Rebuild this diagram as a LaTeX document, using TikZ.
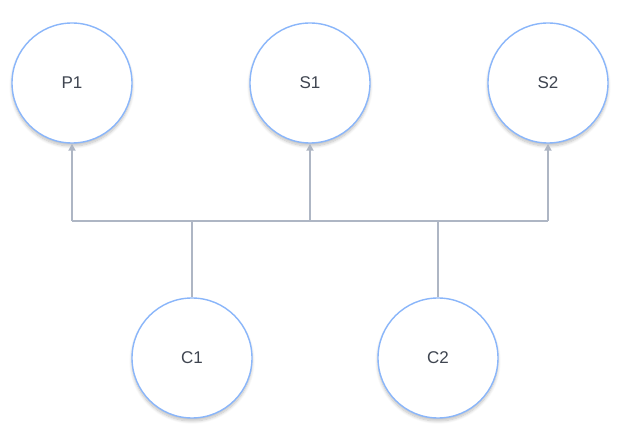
\documentclass[tikz,border=0pt]{standalone}
\usepackage{fontspec}
\setmainfont{Liberation Sans}
\usetikzlibrary{arrows.meta,shadows.blur}
\definecolor{ring}{HTML}{8AB6FA}
\definecolor{wire}{HTML}{AEB6C4}
\definecolor{txt}{HTML}{3F4550}
\tikzset{
  proc/.style={circle, draw=ring, line width=1.4pt, fill=white, minimum size=120pt, inner sep=0pt,
    text=txt, font=\fontsize{17}{20}\selectfont,
    blur shadow={shadow xshift=0pt, shadow yshift=-3pt, shadow blur radius=3pt, shadow opacity=25, shadow blur steps=8}},
  link/.style={draw=wire, line width=1.8pt},
  tip/.style={-{Triangle[length=7pt,width=7pt]}}
}
\begin{document}
\begin{tikzpicture}[x=1pt,y=-1pt]
\useasboundingbox (0,0) rectangle (625,435);
\node[proc] (p1) at (72,83) {P1};
\node[proc] (s1) at (310,83) {S1};
\node[proc] (s2) at (548,83) {S2};
\node[proc] (c1) at (192,358) {C1};
\node[proc] (c2) at (438,358) {C2};
\coordinate (bl) at (72,221);
\coordinate (bm) at (310,221);
\coordinate (br) at (548,221);
\coordinate (b1) at (192,221);
\coordinate (b2) at (438,221);
\draw[link] (bl) -- (br);
\draw[link] (c1.north) -- (b1);
\draw[link] (c2.north) -- (b2);
\draw[link,tip] (bl) -- (p1.south);
\draw[link,tip] (bm) -- (s1.south);
\draw[link,tip] (br) -- (s2.south);
\end{tikzpicture}
\end{document}
